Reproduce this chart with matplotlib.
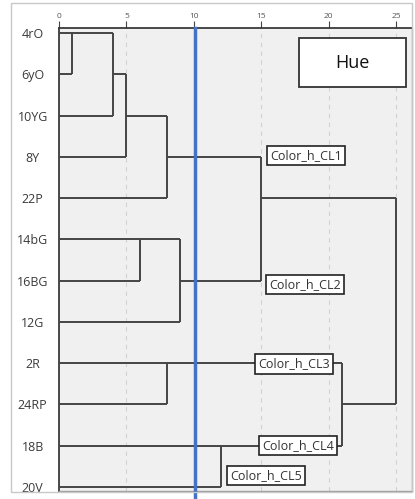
import matplotlib
matplotlib.use('Agg')
import matplotlib.pyplot as plt
from matplotlib.patches import Rectangle

plt.rcParams['font.family'] = ['Open Sans', 'DejaVu Sans']

# leaves, top to bottom
labels = ['4rO', '6yO', '10YG', '8Y', '22P', '14bG', '16BG', '12G', '2R', '24RP', '18B', '20V']

# merges: (child a, child b, distance); ints < 12 are leaves, 'mN' are earlier merges
merge_a = [0, 'm0', 'm1', 'm2', 5, 'm4', 'm3', 8, 10, 'm7', 'm6']
merge_b = [1, 2, 3, 4, 6, 7, 'm5', 9, 11, 'm8', 'm9']
merge_dist = [1, 4, 5, 8, 6, 9, 15, 8, 12, 21, 25]

# cluster labels (text, distance pos, row pos)
cl_text = ['Color_h_CL1', 'Color_h_CL2', 'Color_h_CL3', 'Color_h_CL4', 'Color_h_CL5']
cl_x = [18.3, 18.25, 17.45, 17.75, 15.35]
cl_y = [2.97, 6.1, 8.02, 10.0, 10.73]

cut_dist = 10.1
xticks = [0, 5, 10, 15, 20, 25]

line_col = '#454545'

fig = plt.figure(figsize=(4.15, 4.99), dpi=100)
W, H = 415, 499
# outer light frame
fig.patches.append(Rectangle((11 / W, 1 - 492 / H), (412 - 11) / W, (492 - 3) / H,
                             transform=fig.transFigure, fill=False,
                             edgecolor='#c8c8c8', lw=1.0))
ax = fig.add_axes([59 / W, 1 - 491 / H, (412 - 59) / W, (491 - 28) / H])
ax.set_facecolor('#f0f0f0')

# resolve merge positions
pos = {}   # name -> (x, row)
for i in range(len(labels)):
    pos[i] = (0, i)
parent_dist = {}
for k, (a, b, d) in enumerate(zip(merge_a, merge_b, merge_dist)):
    parent_dist[a] = d
    parent_dist[b] = d
for k, (a, b, d) in enumerate(zip(merge_a, merge_b, merge_dist)):
    ya = pos[a][1]
    yb = pos[b][1]
    ax.plot([d, d], [ya, yb], color=line_col, lw=1.4, solid_capstyle='butt', zorder=3)
    pos['m%d' % k] = (d, int((ya + yb) // 2))

for name, (x0, y0) in pos.items():
    if name in parent_dist:
        ax.plot([x0, parent_dist[name]], [y0, y0], color=line_col, lw=1.4,
                solid_capstyle='butt', zorder=3)

# grid
for t in xticks[1:]:
    ax.axvline(t, color='#d2d2d2', lw=0.8, ls=(0, (4, 4)), zorder=1)

# cut line
ax.axvline(cut_dist, ymin=-0.014, ymax=1, color='#4472c4', lw=2.5, zorder=4, clip_on=False)

ax.set_xlim(0, (412 - 59) / 13.48)
ax.set_ylim(11 + 4 / 41.27, -5 / 41.27)

ax.xaxis.tick_top()
ax.set_xticks(xticks)
ax.set_xticklabels([str(t) for t in xticks])
ax.tick_params(axis='x', length=5, width=0.8, color='#444444', pad=1,
               labelsize=6, labelcolor='#555555')
ax.set_yticks(range(len(labels)))
ax.set_yticklabels(labels)
ax.tick_params(axis='y', length=0, pad=19, labelsize=9, labelcolor='#3a3a3a')
for t in ax.get_yticklabels():
    t.set_horizontalalignment('center')

for s in ['left', 'top']:
    ax.spines[s].set_color('#3a3a3a')
    ax.spines[s].set_linewidth(1.3)
for s in ['right', 'bottom']:
    ax.spines[s].set_color('#9a9a9a')
    ax.spines[s].set_linewidth(1.0)

# cluster label boxes
for txt, x, y in zip(cl_text, cl_x, cl_y):
    ax.text(x, y, txt, ha='center', va='center', fontsize=9, color='#333333',
            zorder=6, bbox=dict(boxstyle='square,pad=0.25', fc='white', ec='#222222', lw=1.2))

# title box
ax.add_patch(Rectangle((17.8, 0.12), 7.94, 1.19, fc='white', ec='#333333', lw=1.3, zorder=6))
ax.text(21.77, 0.72, 'Hue', ha='center', va='center', fontsize=13, color='#111111', zorder=7)

fig.savefig('out.png', dpi=100)
